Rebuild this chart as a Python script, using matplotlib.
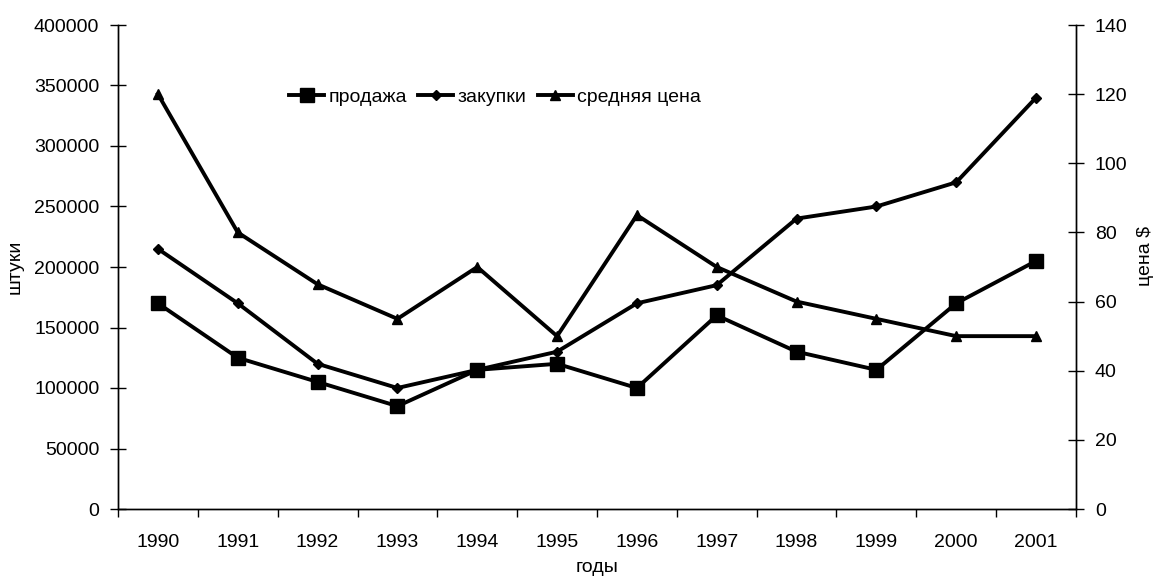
import matplotlib
matplotlib.use('Agg')
import matplotlib.pyplot as plt
from matplotlib.lines import Line2D

plt.rcParams['font.family'] = ['Liberation Sans', 'DejaVu Sans']

years = ['1990', '1991', '1992', '1993', '1994', '1995',
         '1996', '1997', '1998', '1999', '2000', '2001']
prodazha = [170000, 125000, 105000, 85000, 115000, 120000,
            100000, 160000, 130000, 115000, 170000, 205000]
zakupki = [215000, 170000, 120000, 100000, 115000, 130000,
           170000, 185000, 240000, 250000, 270000, 340000]
cena = [120, 80, 65, 55, 70, 50, 85, 70, 60, 55, 50, 50]

fs = 14
lw = 2.8

fig = plt.figure(figsize=(11.6, 5.81), dpi=100)
ax = fig.add_axes([118/1160, 1-509/581, (1076-118)/1160, (509-25)/581])
ax2 = ax.twinx()

x = list(range(len(years)))
ax.plot(x, prodazha, color='black', lw=lw, marker='s', ms=9.5)
ax.plot(x, zakupki, color='black', lw=lw, marker='D', ms=5)
ax2.plot(x, cena, color='black', lw=lw, marker='^', ms=6.5)

ax.set_xlim(-0.5, len(years) - 0.5)
ax.set_ylim(0, 400000)
ax2.set_ylim(0, 140)
ax.set_yticks(range(0, 400001, 50000))
ax2.set_yticks(range(0, 141, 20))

# category boundaries as ticks, labels in the middle
ax.set_xticks([i - 0.5 for i in range(len(years) + 1)])
ax.set_xticklabels([])
ax.set_xticks(x, minor=True)
ax.set_xticklabels(years, minor=True, fontsize=fs)
ax.tick_params(axis='x', which='major', direction='out', length=6, width=1)
ax.tick_params(axis='x', which='minor', length=0, pad=18)
ax.tick_params(axis='y', direction='inout', length=11, width=1, labelsize=fs, pad=8)
ax2.tick_params(axis='y', direction='inout', length=11, width=1, labelsize=fs, pad=8)

for a in (ax, ax2):
    a.spines['top'].set_visible(False)
    a.spines['left'].set_linewidth(1)
    a.spines['right'].set_linewidth(1)
    a.spines['bottom'].set_linewidth(1)

fig.text(15/1160, 1-267/581, 'штуки', rotation=90, fontsize=fs, ha='center', va='center')
fig.text(1145/1160, 1-256/581, 'цена $', rotation=90, fontsize=fs, ha='center', va='center')
fig.text(597/1160, 1-567/581, 'годы', fontsize=fs, ha='center', va='center')

handles = [Line2D([], [], color='black', lw=lw, marker='s', ms=9.5),
           Line2D([], [], color='black', lw=lw, marker='D', ms=5),
           Line2D([], [], color='black', lw=lw, marker='^', ms=6.5)]
ax.legend(handles, ['продажа', 'закупки', 'средняя цена'], loc='center',
          bbox_to_anchor=((495-118)/958, (509-97)/484), ncol=3, frameon=False,
          fontsize=fs, handlelength=1.8, handletextpad=0.2, columnspacing=0.6)

fig.savefig('out.png', dpi=100)
